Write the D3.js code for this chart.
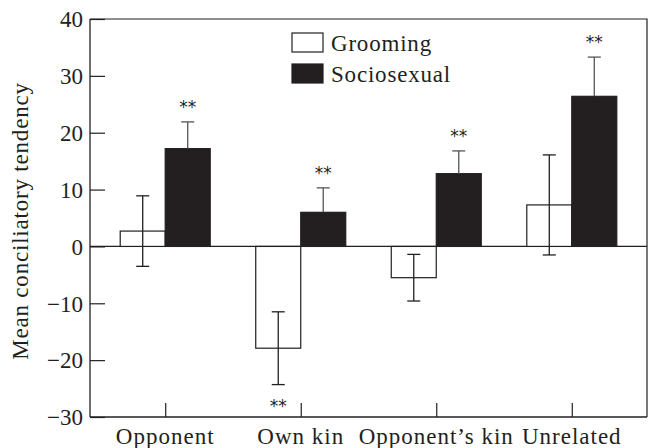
<!DOCTYPE html>
<html>
<head>
<meta charset="utf-8">
<script src="https://cdn.jsdelivr.net/npm/d3@7"></script>
<style>
  html, body { margin: 0; padding: 0; background: #fff; }
  svg text { font-family: "Liberation Serif", "DejaVu Serif", serif; fill: #231f20; }
</style>
</head>
<body>
<svg id="chart" width="656" height="448"></svg>
<script>
// Partner categories on the x axis
const categories = ["Opponent", "Own kin", "Opponent\u2019s kin", "Unrelated"];
const seriesNames = ["Grooming", "Sociosexual"];

// Mean conciliatory tendency and error (one SE) per category
const groomingMeans = [2.7, -17.9, -5.5, 7.3];
const groomingErrors = [6.2, 6.4, 4.1, 8.8];
const sociosexualMeans = [17.2, 6.0, 12.8, 26.4];
const sociosexualErrors = [4.7, 4.3, 4.0, 6.9];

// Significance markers ("**") per category
const groomingSig = [false, true, false, false];
const sociosexualSig = [true, true, true, true];

const yTicks = [-30, -20, -10, 0, 10, 20, 30, 40];

const svg = d3.select("#chart");
const plotLeft = 90, plotRight = 647, plotTop = 19, plotBottom = 417;

const y = d3.scaleLinear().domain([-30, 40]).range([plotBottom, plotTop]);
const x = d3.scalePoint().domain(categories).range([plotLeft, plotRight]).padding(0.555);
const barW = 45;

const ink = "#231f20";

const series = [
  { name: seriesNames[0], means: groomingMeans, errs: groomingErrors, sig: groomingSig, fill: "#fff", offset: -barW },
  { name: seriesNames[1], means: sociosexualMeans, errs: sociosexualErrors, sig: sociosexualSig, fill: ink, offset: 0 }
];

// Zero reference line
svg.append("line")
  .attr("x1", plotLeft).attr("x2", plotRight)
  .attr("y1", y(0)).attr("y2", y(0))
  .attr("stroke", ink).attr("stroke-width", 1.2);

// Bars
series.forEach(s => {
  const g = svg.append("g");
  g.selectAll("rect").data(categories).join("rect")
    .attr("x", (c) => x(c) + s.offset)
    .attr("y", (c, i) => y(Math.max(0, s.means[i])))
    .attr("width", barW)
    .attr("height", (c, i) => Math.abs(y(s.means[i]) - y(0)))
    .attr("fill", s.fill)
    .attr("stroke", ink)
    .attr("stroke-width", 1.2);
});

// Error bars
const capHalf = 6.5;
series.forEach(s => {
  const open = s.fill === "#fff";
  const g = svg.append("g").attr("stroke", open ? ink : "#555").attr("stroke-width", 1.3);
  categories.forEach((c, i) => {
    const cx = x(c) + s.offset + barW / 2;
    const hi = y(s.means[i] + s.errs[i]);
    const lo = y(s.means[i] - s.errs[i]);
    g.append("line").attr("x1", cx).attr("x2", cx).attr("y1", hi).attr("y2", open ? lo : y(s.means[i]));
    g.append("line").attr("x1", cx - capHalf).attr("x2", cx + capHalf).attr("y1", hi).attr("y2", hi);
    if (open) {
      g.append("line").attr("x1", cx - capHalf).attr("x2", cx + capHalf).attr("y1", lo).attr("y2", lo);
    }
  });
});

// Significance markers
series.forEach(s => {
  categories.forEach((c, i) => {
    if (!s.sig[i]) return;
    const cx = x(c) + s.offset + barW / 2;
    const up = s.means[i] >= 0;
    const yy = up ? y(s.means[i] + s.errs[i]) - 9 : y(s.means[i] - s.errs[i]) + 27;
    svg.append("text")
      .attr("x", cx).attr("y", yy)
      .attr("text-anchor", "middle")
      .style("font-family", "'DejaVu Sans', sans-serif")
      .style("font-size", "17px")
      .text("**");
  });
});

// Frame: top and right edges
svg.append("path")
  .attr("d", `M${plotLeft},${plotTop}H${plotRight}V${plotBottom}`)
  .attr("fill", "none").attr("stroke", ink).attr("stroke-width", 1.2);

// Left axis with inward ticks
const yAxis = svg.append("g")
  .attr("transform", `translate(${plotLeft},0)`)
  .call(d3.axisRight(y).tickValues(yTicks).tickSize(15).tickFormat(""));
yAxis.select(".domain").attr("d", `M0,${plotTop}V${plotBottom}`).attr("stroke", ink).attr("stroke-width", 1.3);
yAxis.selectAll(".tick line").attr("stroke", ink).attr("stroke-width", 1.2);

svg.append("g").selectAll("text").data(yTicks).join("text")
  .attr("x", plotLeft - 7)
  .attr("y", d => y(d))
  .attr("dy", "0.36em")
  .attr("text-anchor", "end")
  .style("font-size", "23px")
  .text(d => d < 0 ? "\u2212" + Math.abs(d) : d);

// Bottom axis with upward ticks at category centres
const xAxis = svg.append("g")
  .attr("transform", `translate(0,${plotBottom})`)
  .call(d3.axisTop(x).tickSize(14).tickFormat(""));
xAxis.select(".domain").attr("d", `M${plotLeft},0H${plotRight}`).attr("stroke", ink).attr("stroke-width", 1.3);
xAxis.selectAll(".tick line").attr("stroke", ink).attr("stroke-width", 1.2);

svg.append("g").selectAll("text").data(categories).join("text")
  .attr("x", d => x(d))
  .attr("y", 444)
  .attr("text-anchor", "middle")
  .style("font-size", "23px")
  .style("letter-spacing", "1px")
  .text(d => d);

// Y axis title
svg.append("text")
  .attr("transform", `translate(28,${(plotTop + plotBottom) / 2 + 3}) rotate(-90)`)
  .attr("text-anchor", "middle")
  .style("font-size", "23px")
  .style("letter-spacing", "0.8px")
  .text("Mean conciliatory tendency");

// Legend
const legend = svg.append("g").attr("transform", "translate(292,33)");
series.forEach((s, i) => {
  legend.append("rect")
    .attr("x", 0).attr("y", i * 31)
    .attr("width", 31).attr("height", 19)
    .attr("fill", s.fill).attr("stroke", ink).attr("stroke-width", 1.2);
  legend.append("text")
    .attr("x", 39).attr("y", i * 31 + 18)
    .style("font-size", "23px")
    .style("letter-spacing", "0.8px")
    .text(s.name);
});
</script>
</body>
</html>
